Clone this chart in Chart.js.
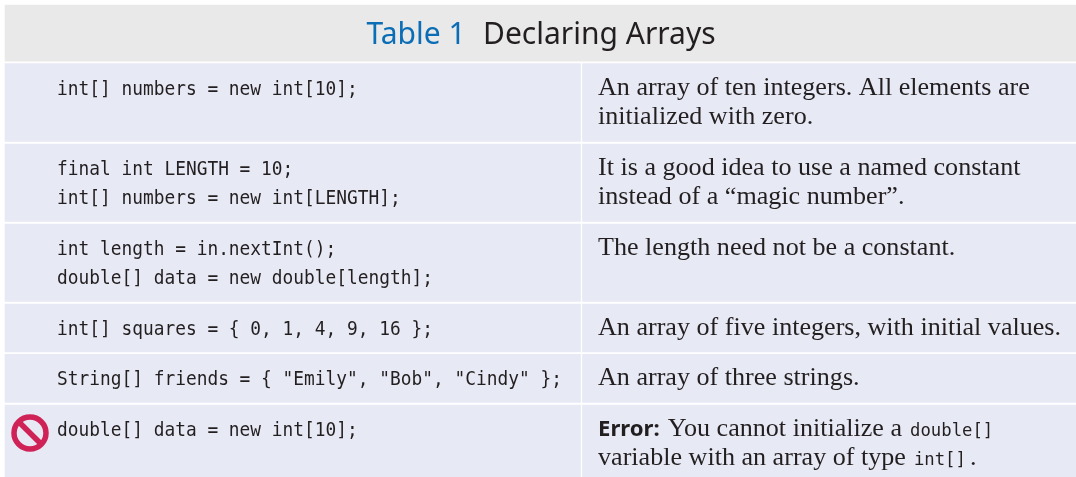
<!DOCTYPE html>
<html>
<head>
<meta charset="utf-8">
<style>
  html, body { margin: 0; padding: 0; background: #fff; }
  canvas { display: block; }
</style>
<script src="https://cdn.jsdelivr.net/npm/chart.js@4/dist/chart.umd.min.js"></script>
</head>
<body>
<canvas id="table" width="1076" height="477"></canvas>
<script>
// ========== data ==========
const titleTag = "Table 1";
const titleText = "Declaring Arrays";

const rowSpans = [58.7, 80.3, 80, 80, 50.3, 50.7, 72]; // header first
const columnEdges = [5, 581.5, 1076];

const codeLines = [
  ["int[] numbers = new int[10];"],
  ["final int LENGTH = 10;", "int[] numbers = new int[LENGTH];"],
  ["int length = in.nextInt();", "double[] data = new double[length];"],
  ["int[] squares = { 0, 1, 4, 9, 16 };"],
  ['String[] friends = { "Emily", "Bob", "Cindy" };'],
  ["double[] data = new int[10];"],
];
const noteLines = [
  ["An array of ten integers. All elements are", "initialized with zero."],
  ["It is a good idea to use a named constant", "instead of a “magic number”."],
  ["The length need not be a constant."],
  ["An array of five integers, with initial values."],
  ["An array of three strings."],
  [],
];
const errorNote = [
  [["label", "Error:"], ["note", "You cannot initialize a"], ["inline", "double[]"]],
  [["note", "variable with an array of type"], ["inline", "int[]"], ["note", "."]],
];

// ========== config ==========
const INK = "#231f20";
const ROW_FILL = "#e7e9f5";
const HEAD_FILL = "#e9e9e9";
const MARK = "#cf2257";
const ROW_GAP = 2.5;
const FIRST_BASELINE = 31;
const LINE_STEP = 29;
const FONTS = {
  code: { font: '19.5px "DejaVu Sans Mono"', stretch: 0.915 },
  inline: { font: '18.5px "DejaVu Sans Mono"', stretch: 0.934 },
  note: { font: '26.1px "Liberation Serif"', stretch: 1 },
  label: { font: 'bold 21.5px "Noto Sans"', stretch: 1.03 },
  title: { font: '30px "Noto Sans"', stretch: 1 },
};

// row edges on the y scale
const rowEdges = [5];
rowSpans.forEach((h) => rowEdges.push(rowEdges[rowEdges.length - 1] + h));
const bodyTops = rowEdges.slice(1, -1);

function cellBars(left, right, from, to, color) {
  return {
    type: "bar",
    data: [{ x: (left + right) / 2, y: [from, to] }],
    backgroundColor: color,
    barThickness: right - left,
    grouped: false,
    borderWidth: 0,
    order: 2,
  };
}

const datasets = [cellBars(columnEdges[0], columnEdges[2], rowEdges[0], rowEdges[1] - ROW_GAP, HEAD_FILL)];
bodyTops.forEach((top, i) => {
  const bottom = i === bodyTops.length - 1 ? rowEdges[i + 2] : rowEdges[i + 2] - ROW_GAP;
  datasets.push(cellBars(columnEdges[0], columnEdges[1] - 1, top, bottom, ROW_FILL));
  datasets.push(cellBars(columnEdges[1] + 1, columnEdges[2], top, bottom, ROW_FILL));
});

// the "not allowed" sign in the last row
const signAt = [{ x: 30, y: bodyTops[5] + 28 }];
datasets.push({
  type: "scatter", data: signAt, pointStyle: "circle", pointRadius: 16,
  backgroundColor: "rgba(0,0,0,0)", borderColor: MARK, pointBorderWidth: 5.5, order: 1,
});
datasets.push({
  type: "scatter", data: signAt, pointStyle: "line", pointRadius: 16, pointRotation: 45,
  borderColor: MARK, pointBorderWidth: 5.5, order: 1,
});

// ========== text ==========
function put(ctx, key, text, x, y, color) {
  const f = FONTS[key];
  ctx.save();
  ctx.font = f.font;
  ctx.fillStyle = color || INK;
  ctx.textBaseline = "alphabetic";
  ctx.translate(x, y);
  ctx.scale(f.stretch, 1);
  ctx.fillText(text, 0, 0);
  const w = ctx.measureText(text).width * f.stretch;
  ctx.restore();
  return w;
}

const tablePrinter = {
  id: "tablePrinter",
  afterDatasetsDraw(chart) {
    const { ctx, scales } = chart;
    const xs = scales.x;
    const ys = scales.y;

    const titleY = ys.getPixelForValue(44);
    put(ctx, "title", titleTag, xs.getPixelForValue(366.5), titleY, "#0a6db5");
    put(ctx, "title", titleText, xs.getPixelForValue(483), titleY);

    const codeX = xs.getPixelForValue(57);
    const noteX = xs.getPixelForValue(598);
    bodyTops.forEach((top, r) => {
      const base = (n) => ys.getPixelForValue(top + FIRST_BASELINE + n * LINE_STEP);
      codeLines[r].forEach((line, n) => put(ctx, "code", line, codeX, base(n)));
      noteLines[r].forEach((line, n) => put(ctx, "note", line, noteX, base(n)));
    });

    errorNote.forEach((runs, n) => {
      let x = noteX;
      const y = ys.getPixelForValue(bodyTops[5] + FIRST_BASELINE + n * LINE_STEP);
      runs.forEach(([key, text], i) => {
        x += put(ctx, key, text, x, y);
        if (i < runs.length - 1) x += runs[i + 1][1] === "." ? 4 : 8;
      });
    });
  },
};

// ========== chart ==========
new Chart(document.getElementById("table"), {
  data: { datasets },
  plugins: [tablePrinter],
  options: {
    responsive: false,
    animation: false,
    layout: { padding: 0, autoPadding: false },
    plugins: { legend: { display: false }, tooltip: { enabled: false } },
    scales: {
      x: { type: "linear", min: 0, max: 1076, display: false, offset: false },
      y: { type: "linear", min: 0, max: 477, reverse: true, display: false },
    },
  },
});
</script>
</body>
</html>
